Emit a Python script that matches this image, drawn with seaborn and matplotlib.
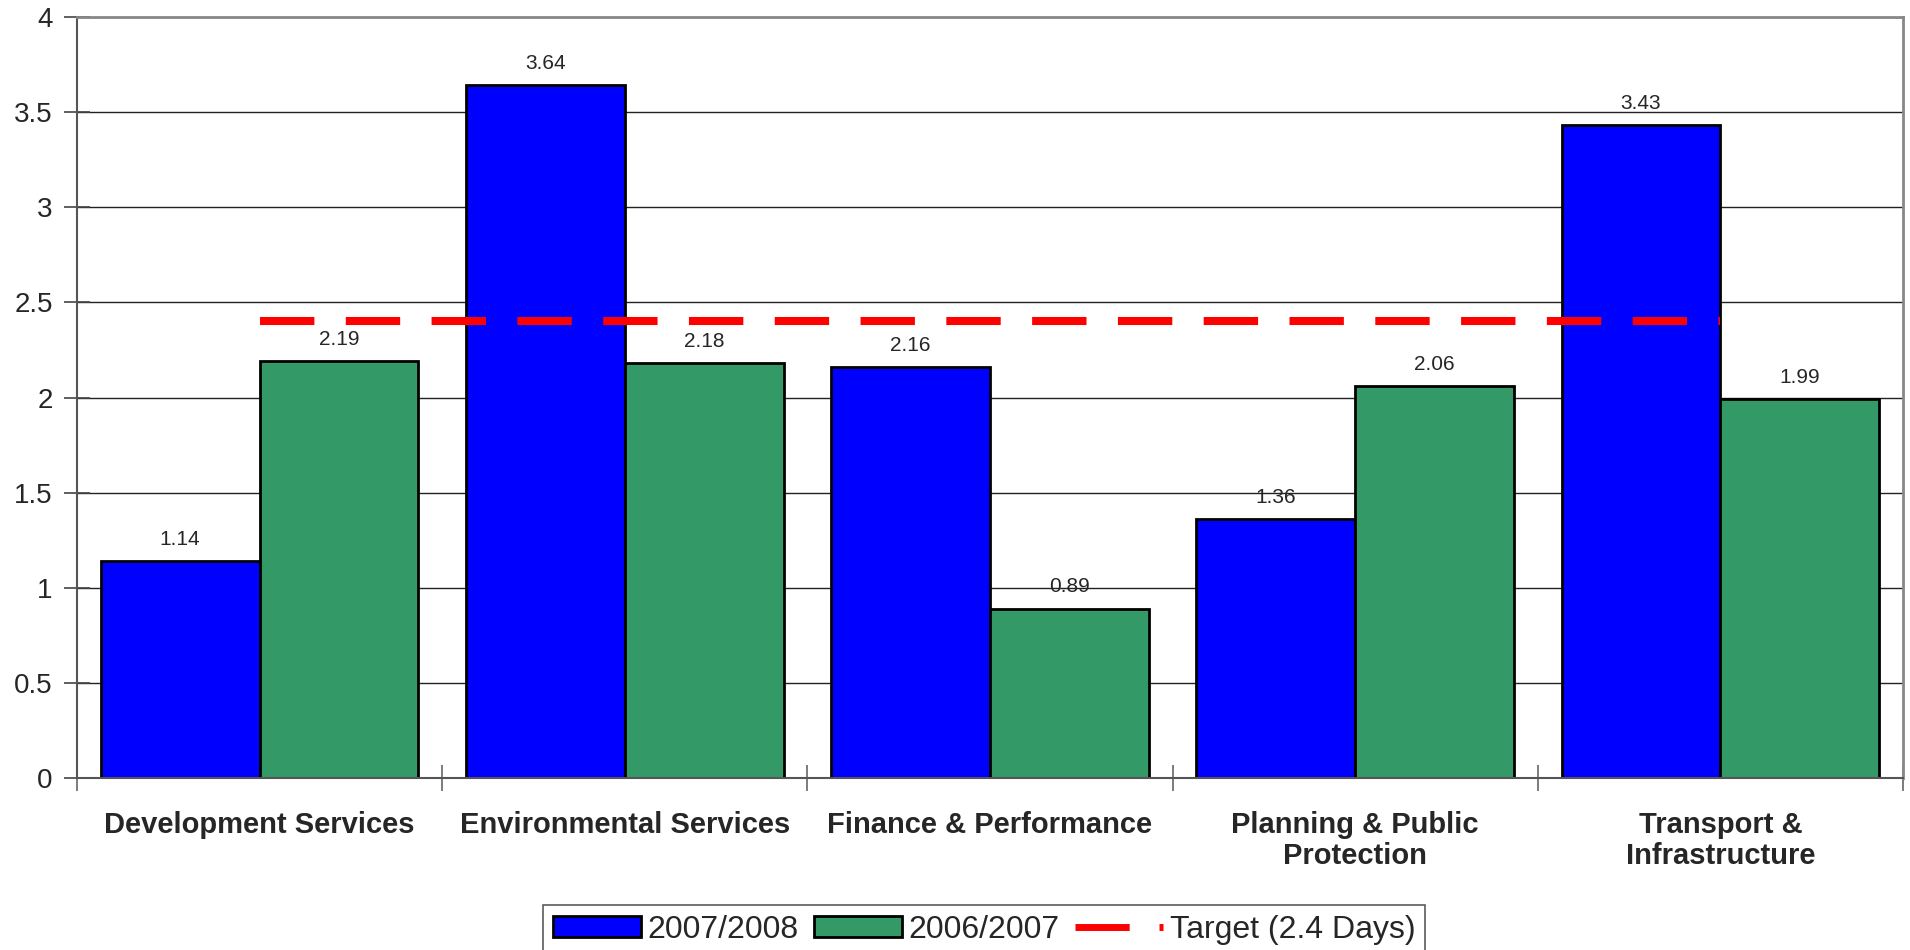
import numpy as np
import pandas as pd
import matplotlib
matplotlib.use('Agg')
import matplotlib.pyplot as plt
from matplotlib.lines import Line2D
from matplotlib.ticker import MultipleLocator, FixedLocator, FuncFormatter
import seaborn as sns

# Data
departments = ['Development Services', 'Environmental Services',
               'Finance & Performance', 'Planning & Public\nProtection',
               'Transport &\nInfrastructure']
days_0708 = [1.14, 3.64, 2.16, 1.36, 3.43]
days_0607 = [2.19, 2.18, 0.89, 2.06, 1.99]
series_names = ['2007/2008', '2006/2007']
target = 2.4
target_label = 'Target (2.4 Days)'

sns.set_theme(style='white')
plt.rcParams['font.family'] = ['Liberation Sans', 'DejaVu Sans']

df = pd.DataFrame({
    'department': departments * 2,
    'days': days_0708 + days_0607,
    'period': [series_names[0]] * len(departments) + [series_names[1]] * len(departments),
})

fig = plt.figure(figsize=(19.1, 9.5), dpi=100)
ax = fig.add_axes([77 / 1910, 1 - 778 / 950, (1903 - 77) / 1910, (778 - 17) / 950])

sns.barplot(data=df, x='department', y='days', hue='period',
            hue_order=series_names, order=departments,
            palette=['#0000FF', '#339966'], width=0.87, gap=0,
            edgecolor='black', linewidth=2, saturation=1,
            errorbar=None, legend=False, ax=ax)

for cont in ax.containers:
    ax.bar_label(cont, fmt='%.2f', padding=9, fontsize=15)

# target line runs from first to last category centre
ax.hlines(target, 0, len(departments) - 1, colors='#FF0000', linewidth=5.8,
          linestyles=(0, (6.75, 3.9)), zorder=5)

ax.set_xlim(-0.5, len(departments) - 0.5)
ax.set_ylim(0, 4)
ax.yaxis.set_major_locator(MultipleLocator(0.5))
ax.yaxis.set_major_formatter(FuncFormatter(lambda v, p: '%g' % v))
ax.grid(axis='y', color='#222222', linewidth=1)
ax.set_axisbelow(True)
ax.set_xlabel('')
ax.set_ylabel('')

# category tick marks at the group boundaries, labels at centres
ax.xaxis.set_minor_locator(FixedLocator(np.arange(-0.5, len(departments), 1.0)))
ax.tick_params(axis='x', which='major', length=0, pad=24)
ax.tick_params(axis='x', which='minor', direction='inout', length=19,
               width=1.2, color='#666666', bottom=True)
ax.tick_params(axis='y', which='major', direction='inout', length=19,
               width=1.2, color='#444444', left=True, labelsize=20, pad=8)
for lbl in ax.get_xticklabels():
    lbl.set_fontweight('bold')
    lbl.set_fontsize(21)
    lbl.set_linespacing(1.1)

for side in ['top', 'right']:
    ax.spines[side].set_color('#888888')
    ax.spines[side].set_linewidth(2)
for side in ['left', 'bottom']:
    ax.spines[side].set_color('#555555')
    ax.spines[side].set_linewidth(1.5)

handles = [plt.Rectangle((0, 0), 1, 1, facecolor='#0000FF', edgecolor='black', linewidth=2),
           plt.Rectangle((0, 0), 1, 1, facecolor='#339966', edgecolor='black', linewidth=2),
           Line2D([], [], color='#FF0000', linewidth=5, linestyle=(0, (7.8, 4.3)))]
leg = fig.legend(handles, series_names + [target_label], loc='upper center',
                 bbox_to_anchor=(984 / 1910, 1 - 905 / 950), ncol=3,
                 fontsize=23, frameon=True, fancybox=False, edgecolor='#333333',
                 handlelength=2.75, handleheight=0.65, handletextpad=0.22,
                 columnspacing=0.47, borderpad=0.3, borderaxespad=0)
leg.get_frame().set_linewidth(1.2)

fig.savefig('out.png', dpi=100)
